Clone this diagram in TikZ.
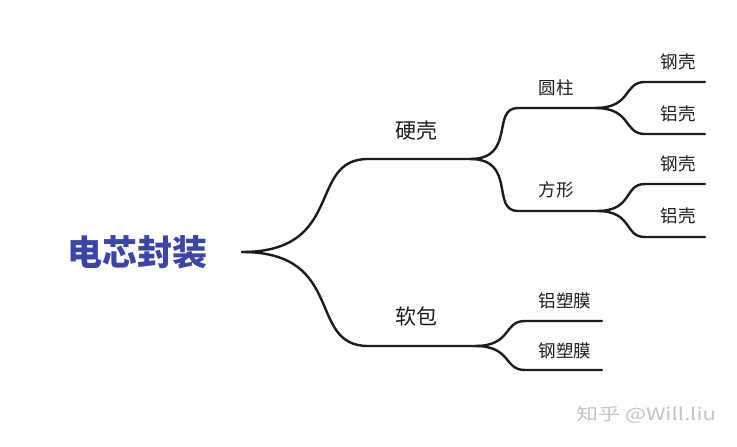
\documentclass[tikz,border=0pt]{standalone}
\usepackage{fontspec}
\newfontfamily\cjk{Noto Sans CJK SC}
\usetikzlibrary{positioning}
\definecolor{RootBlue}{HTML}{3A45A5}
\definecolor{LineDark}{HTML}{1C1C1C}
\definecolor{MarkGray}{HTML}{C4C4C4}

\begin{document}
\begin{tikzpicture}[x=1pt, y=-1pt,
  branch/.style={draw=LineDark, line width=2.4pt, line cap=round},
  twig/.style={out=0, in=180, out looseness=1.7, in looseness=1.0},
  rootlab/.style={font=\cjk\bfseries\fontsize{35}{38}\selectfont, text=RootBlue, inner sep=0pt},
  midlab/.style={font=\cjk\fontsize{21}{24}\selectfont, text=LineDark, inner sep=0pt},
  leaflab/.style={font=\cjk\fontsize{17.5}{20}\selectfont, text=LineDark, inner sep=0pt}
]
\useasboundingbox[fill=white] (0,0) rectangle (737,447);

% root
\node[rootlab] (root) at (137,252) {电芯封装};
\coordinate (hub) at (242,252);

% first level
\coordinate (hardL) at (368,159);
\coordinate (hardR) at (470,159);
\coordinate (softL) at (368,346);
\coordinate (softR) at (475,346);
\node[midlab] (hard) at (416,131) {硬壳};
\node[midlab] (soft) at (416,316) {软包};

% second level
\coordinate (cylL) at (518,108);
\coordinate (cylR) at (595,108);
\coordinate (sqL) at (518,211);
\coordinate (sqR) at (597,211);
\coordinate (foilAL) at (525,321);
\coordinate (foilAR) at (602,321);
\coordinate (foilSL) at (525,370);
\coordinate (foilSR) at (602,370);
\node[leaflab] (cyl) at (556,88) {圆柱};
\node[leaflab] (sq) at (556,190) {方形};
\node[leaflab] (foilA) at (565,301) {铝塑膜};
\node[leaflab] (foilS) at (565,351) {钢塑膜};

% third level
\coordinate (cSteelL) at (645,82);
\coordinate (cSteelR) at (705,82);
\coordinate (cAlL) at (645,134);
\coordinate (cAlR) at (705,134);
\coordinate (sSteelL) at (645,184);
\coordinate (sSteelR) at (705,184);
\coordinate (sAlL) at (645,237);
\coordinate (sAlR) at (705,237);
\node[leaflab] (cSteel) at (678,62) {钢壳};
\node[leaflab] (cAl) at (678,114) {铝壳};
\node[leaflab] (sSteel) at (678,164) {钢壳};
\node[leaflab] (sAl) at (678,216) {铝壳};

% branches
\draw[branch] (hub) to[twig] (hardL) -- (hardR);
\draw[branch] (hub) to[twig] (softL) -- (softR);
\draw[branch] (hardR) to[twig] (cylL) -- (cylR);
\draw[branch] (hardR) to[twig] (sqL) -- (sqR);
\draw[branch] (softR) to[twig] (foilAL) -- (foilAR);
\draw[branch] (softR) to[twig] (foilSL) -- (foilSR);
\draw[branch] (cylR) to[twig] (cSteelL) -- (cSteelR);
\draw[branch] (cylR) to[twig] (cAlL) -- (cAlR);
\draw[branch] (sqR) to[twig] (sSteelL) -- (sSteelR);
\draw[branch] (sqR) to[twig] (sAlL) -- (sAlR);

% watermark
\node[font=\cjk\fontsize{17}{20}\selectfont, text=MarkGray, inner sep=0pt, xscale=1.3] (mark) at (646,415) {知乎 @Will.liu};
\end{tikzpicture}
\end{document}
